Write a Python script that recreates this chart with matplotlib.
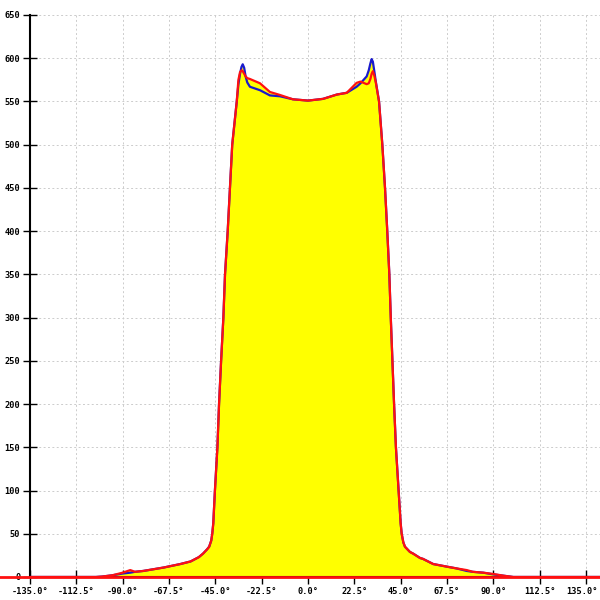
import matplotlib
matplotlib.use("Agg")
import matplotlib.pyplot as plt
import matplotlib.transforms as mtransforms

# angle (deg) and two measured profiles
angle = [-135, -103, -100, -95, -90, -86.3, -84, -80, -75, -70, -67, -62, -57, -53, -51, -49,
         -48, -47, -46.5, -46, -45.2, -44, -43.2, -42.2, -41.1, -40.3, -39, -37.9, -36.8,
         -34.6, -33.8, -33, -32.3, -31.7, -31, -30.3, -29.5, -28.2, -23.3, -18.5, -13.6,
         -7.3, 0, 7.3, 14, 18.8, 23.6, 25.5, 28.5, 29.5, 30.3, 30.9, 31.5, 32.2, 33,
         34.5, 36.1, 37.4, 38.5, 39.5, 40.2, 41, 41.8, 42.7, 44, 45, 45.5, 46.3, 47.1,
         49.5, 51.1, 54.4, 55.8, 60.8, 67.4, 72, 77.1, 80, 85.1, 90, 95, 99.7, 141.8]
blue = [0, 0, 0.5, 2, 4, 5, 6, 7, 9, 11, 12.5, 15, 18, 23, 27, 32,
        35, 42, 50, 62, 100, 150, 200, 250, 300, 350, 400, 450, 500,
        550, 570, 582, 590, 593, 589, 579, 572, 567, 563, 557, 556,
        552.5, 551, 553, 558, 560, 567, 571, 579, 586, 594, 599, 596, 585, 572,
        550, 500, 450, 400, 350, 300, 250, 200, 150, 100, 62, 50, 40, 35,
        29, 27, 22, 21, 15, 12, 10, 7, 6, 5, 3, 1.5, 0, 0]
red = [0, 0, 0.5, 2, 5, 8, 6, 7, 9, 11, 12.5, 15, 18, 23, 27, 32,
       35, 42, 50, 62, 100, 150, 200, 250, 300, 350, 400, 450, 500,
       550, 575, 584, 586, 585, 582, 579, 577, 576, 571, 561, 557.5,
       552.5, 551, 553, 558, 560, 571.5, 573, 570, 571, 576, 582, 585, 580, 571,
       550, 500, 450, 400, 350, 300, 250, 200, 150, 100, 62, 50, 40, 35,
       29, 27, 22, 21, 15, 12, 10, 8, 6, 5, 3.5, 1.5, 0, 0]

xticks = [-135, -112.5, -90, -67.5, -45, -22.5, 0, 22.5, 45, 67.5, 90, 112.5, 135]
yticks = list(range(0, 651, 50))

fig = plt.figure(figsize=(6, 6), dpi=100)
ax = fig.add_axes([0.05, 1 - 577 / 600, 0.95, 562 / 600])

ax.fill_between(angle, 0, blue, color="#ffff00", lw=0)
ax.fill_between(angle, 0, red, color="#ffff00", lw=0)
ax.plot(angle, blue, color="#1a1acc", lw=1.6, zorder=3)
ax.plot(angle, red, color="#ff1010", lw=1.6, zorder=4)
ax.axhline(0, xmin=-0.06, xmax=1, color="#ff1010", lw=2, clip_on=False, zorder=5)

ax.set_xlim(-135, 141.8)
ax.set_ylim(0, 650)
ax.set_xticks(xticks)
ax.set_xticklabels([f"{t:.1f}°" for t in xticks])
ax.set_yticks(yticks)
ax.set_yticklabels([str(t) for t in yticks])

ax.grid(True, color="#cccccc", linestyle=(0, (2, 2.5)), lw=0.7)
ax.set_axisbelow(True)
for s in ["top", "right"]:
    ax.spines[s].set_visible(False)
for s in ["left", "bottom"]:
    ax.spines[s].set_linewidth(1.5)
    ax.spines[s].set_color("black")

ax.tick_params(direction="inout", length=10, width=1, labelsize=6.2, pad=2)
for lab in ax.get_xticklabels() + ax.get_yticklabels():
    lab.set_fontfamily("DejaVu Sans Mono")
    lab.set_fontweight("bold")

# keep the last x label inside the picture
last = ax.get_xticklabels()[-1]
last.set_transform(last.get_transform() + mtransforms.ScaledTranslation(-3 / 72, 0, fig.dpi_scale_trans))

fig.savefig("out.png", dpi=100)
